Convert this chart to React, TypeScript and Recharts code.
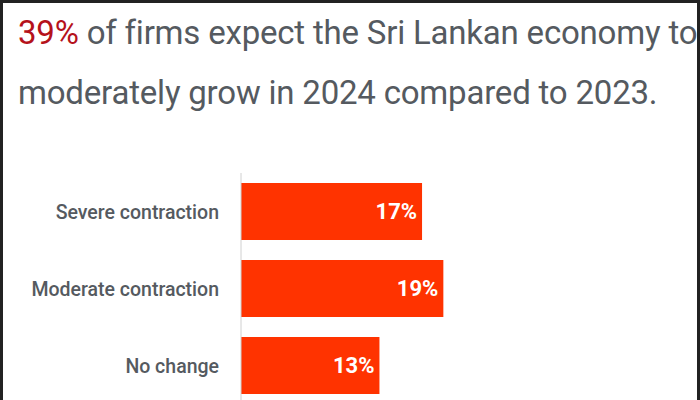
import { BarChart, Bar, XAxis, YAxis, LabelList } from 'recharts';

const categories = ['Severe contraction', 'Moderate contraction', 'No change'];
const shares = [17, 19, 13];
const titleHighlight = '39%';
const titleLine1 = ' of firms expect the Sri Lankan economy to';
const titleLine2 = 'moderately grow in 2024 compared to 2023.';

const data = categories.map((name, i) => ({ name, value: shares[i] }));

const CategoryTick = (props: any) => {
  const { x, y, payload } = props;
  return (
    <text x={x} y={y} dy={7} textAnchor="end" fill="#555a60" fontSize={19.5} fontWeight={500}
      fontFamily="Roboto, sans-serif">
      {payload.value}
    </text>
  );
};

export default function App() {
  return (
    <div style={{
      position: 'absolute', left: 0, top: 0, width: 700, height: 400, overflow: 'hidden',
      background: '#fff', boxSizing: 'border-box',
      borderTop: '3px solid #222', borderLeft: '3px solid #222', borderRight: '3px solid #222',
    }}>
      <div style={{
        position: 'absolute', left: 15, top: 0, width: 690,
        fontFamily: "Roboto, sans-serif", fontSize: 33, lineHeight: '60px',
        color: '#555a60', letterSpacing: -0.2, whiteSpace: 'nowrap',
      }}>
        <div><span style={{ color: '#b5121b' }}>{titleHighlight}</span>{titleLine1}</div>
        <div>{titleLine2}</div>
      </div>
      <div style={{ position: 'absolute', left: -3, top: 170 }}>
        <BarChart width={700} height={231} data={data} layout="vertical"
          margin={{ top: 0, right: 33, bottom: 0, left: 0 }} barCategoryGap={10}>
          <XAxis type="number" domain={[0, 40]} hide />
          <YAxis type="category" dataKey="name" width={241} axisLine={{ stroke: '#d0d0d0' }}
            tickLine={false} tickSize={0} tickMargin={22} tick={<CategoryTick />} />
          <Bar dataKey="value" fill="#ff3300" isAnimationActive={false}>
            <LabelList dataKey="value" position="insideRight" offset={5} fill="#fff"
              fontSize={22} fontWeight={700} fontFamily="Roboto, sans-serif"
              formatter={(v: any) => `${v}%`} />
          </Bar>
        </BarChart>
      </div>
    </div>
  );
}
